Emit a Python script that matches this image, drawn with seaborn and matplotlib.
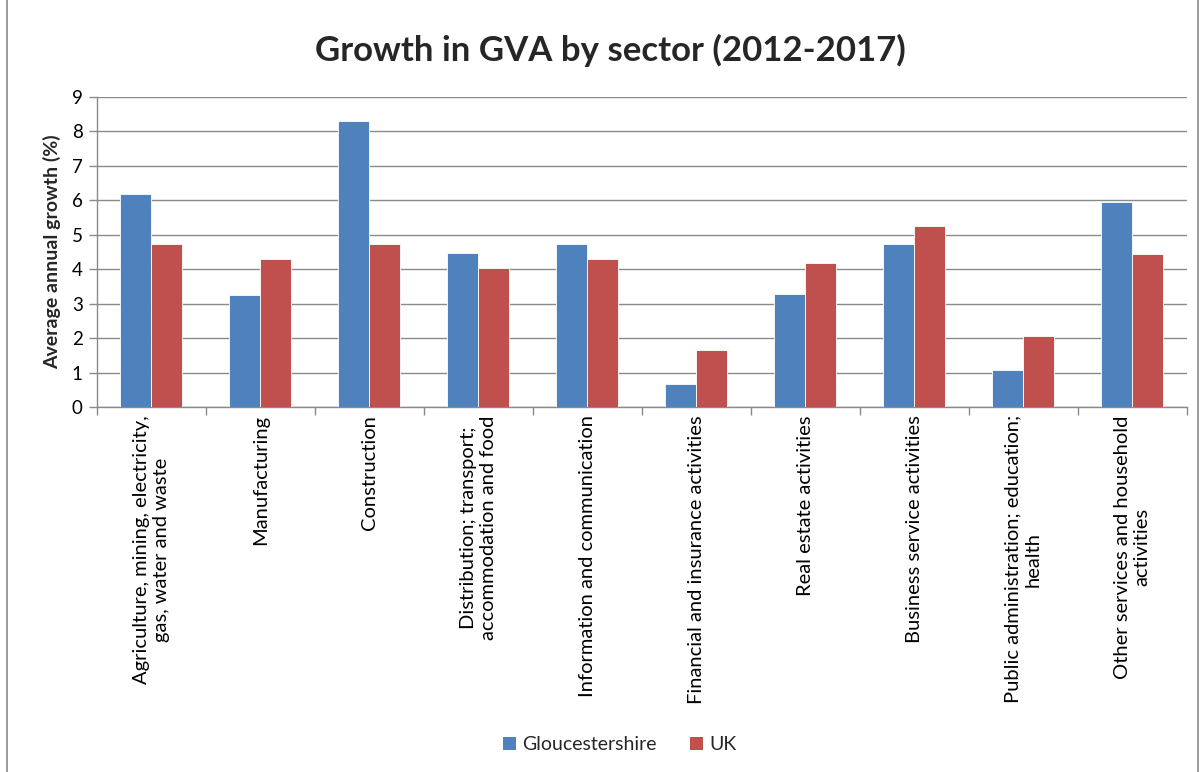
import matplotlib
matplotlib.use("Agg")
import matplotlib.pyplot as plt
import seaborn as sns
import pandas as pd
from matplotlib.patches import Rectangle, Patch

sectors = [
    "Agriculture, mining, electricity,\ngas, water and waste",
    "Manufacturing",
    "Construction",
    "Distribution; transport;\naccommodation and food",
    "Information and communication",
    "Financial and insurance activities",
    "Real estate activities",
    "Business service activities",
    "Public administration; education;\nhealth",
    "Other services and household\nactivities",
]
gloucestershire = [6.18, 3.25, 8.30, 4.48, 4.74, 0.67, 3.28, 4.72, 1.07, 5.94]
uk = [4.72, 4.28, 4.73, 4.02, 4.28, 1.64, 4.18, 5.26, 2.06, 4.43]
series = ["Gloucestershire", "UK"]
colors = ["#4F81BD", "#C0504D"]

df = pd.DataFrame({
    "sector": sectors * 2,
    "area": [series[0]] * len(sectors) + [series[1]] * len(sectors),
    "growth": gloucestershire + uk,
})

sns.set_theme(style="white")
plt.rcParams["font.family"] = ["Lato", "DejaVu Sans"]

fig = plt.figure(figsize=(12.03, 7.72), dpi=100)
ax = fig.add_axes([0.0804, 0.4728, 0.9061, 0.4019])

sns.barplot(data=df, x="sector", y="growth", hue="area", order=sectors,
            hue_order=series, palette=colors, width=0.57, saturation=1,
            edgecolor="white", linewidth=0.6, legend=False, ax=ax, zorder=3)

ax.set_xlim(-0.5, len(sectors) - 0.5)
ax.set_ylim(0, 9)
ax.set_yticks(range(0, 10))
ax.yaxis.grid(True, color="#8a8a8a", linewidth=1.0, zorder=0)
ax.set_axisbelow(True)

for side in ["top", "right"]:
    ax.spines[side].set_visible(False)
for side in ["left", "bottom"]:
    ax.spines[side].set_color("#8a8a8a")
    ax.spines[side].set_linewidth(1.0)

ax.tick_params(axis="y", which="major", left=True, length=6, width=1,
               color="#8a8a8a", labelsize=13.5, pad=4, labelcolor="black")
ax.set_xticks(range(len(sectors)))
ax.set_xticklabels(sectors, rotation=90, ha="center", va="top",
                   multialignment="center", fontsize=14.5)
ax.tick_params(axis="x", which="major", length=0, pad=6, labelcolor="black")
ax.set_xticks([i - 0.5 for i in range(len(sectors) + 1)], minor=True)
ax.tick_params(axis="x", which="minor", bottom=True, length=6, width=1,
               color="#8a8a8a")

ax.set_xlabel("")
ax.set_ylabel("Average annual growth (%)", fontsize=14, fontweight="bold",
              labelpad=8)

fig.text(0.507, 0.935, "Growth in GVA by sector (2012-2017)", ha="center",
         va="center", fontsize=25, fontweight="bold")

handles = [Patch(facecolor=c, edgecolor="none") for c in colors]
fig.legend(handles, series, loc="center", bbox_to_anchor=(0.515, 0.035),
           ncol=2, frameon=False, fontsize=14, handlelength=0.7,
           handleheight=0.7, handletextpad=0.3, columnspacing=1.7)

fig.patches.append(Rectangle((0.006, -0.01), 0.99, 1.02, transform=fig.transFigure,
                             fill=False, edgecolor="#8a8a8a", linewidth=1.2))

fig.savefig("out.png", dpi=100, facecolor="white")
